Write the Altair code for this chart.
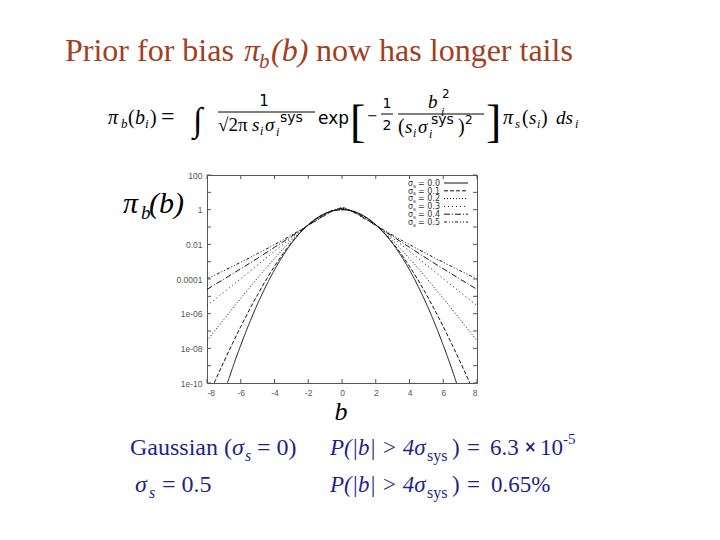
import altair as alt
import pandas as pd

# ---- data (log10 of pi_b(b)) ----
b_vals = [-8, -7.5, -7, -6.5, -6, -5.5, -5, -4.5, -4, -3.5, -3, -2.5, -2, -1.5, -1, -0.5, 0,
          0.5, 1, 1.5, 2, 2.5, 3, 3.5, 4, 4.5, 5, 5.5, 6, 6.5, 7, 7.5, 8]
sigma_labels = ["0.0", "0.1", "0.2", "0.3", "0.4", "0.5"]
log_s00 = [-13.90, -12.21, -10.64, -9.17, -7.82, -6.57, -5.43, -4.40, -3.47, -2.66, -1.95, -1.36, -0.87, -0.49, -0.22, -0.05, 0.00,
           -0.05, -0.22, -0.49, -0.87, -1.36, -1.95, -2.66, -3.47, -4.40, -5.43, -6.57, -7.82, -9.17, -10.64, -12.21, -13.90]
log_s01 = [-10.94, -9.84, -8.77, -7.74, -6.75, -5.80, -4.90, -4.05, -3.27, -2.55, -1.91, -1.34, -0.87, -0.49, -0.22, -0.05, 0.00,
           -0.05, -0.22, -0.49, -0.87, -1.34, -1.91, -2.55, -3.27, -4.05, -4.90, -5.80, -6.75, -7.74, -8.77, -9.84, -10.94]
log_s02 = [-7.56, -6.94, -6.33, -5.72, -5.12, -4.53, -3.94, -3.37, -2.82, -2.28, -1.77, -1.30, -0.88, -0.52, -0.23, -0.05, 0.01,
           -0.05, -0.23, -0.52, -0.88, -1.30, -1.77, -2.28, -2.82, -3.37, -3.94, -4.53, -5.12, -5.72, -6.33, -6.94, -7.56]
log_s03 = [-5.53, -5.15, -4.76, -4.37, -3.98, -3.58, -3.19, -2.79, -2.40, -2.01, -1.63, -1.25, -0.89, -0.55, -0.26, -0.04, 0.04,
           -0.04, -0.26, -0.55, -0.89, -1.25, -1.63, -2.01, -2.40, -2.79, -3.19, -3.58, -3.98, -4.37, -4.76, -5.15, -5.53]
log_s04 = [-4.60, -4.30, -4.01, -3.71, -3.41, -3.11, -2.80, -2.49, -2.17, -1.86, -1.54, -1.22, -0.90, -0.59, -0.29, -0.05, 0.08,
           -0.05, -0.29, -0.59, -0.90, -1.22, -1.54, -1.86, -2.17, -2.49, -2.80, -3.11, -3.41, -3.71, -4.01, -4.30, -4.60]
log_s05 = [-3.99, -3.76, -3.52, -3.28, -3.03, -2.79, -2.53, -2.28, -2.01, -1.75, -1.47, -1.19, -0.91, -0.62, -0.33, -0.05, 0.12,
           -0.05, -0.33, -0.62, -0.91, -1.19, -1.47, -1.75, -2.01, -2.28, -2.53, -2.79, -3.03, -3.28, -3.52, -3.76, -3.99]
x_ticks = [-8, -6, -4, -2, 0, 2, 4, 6, 8]
y_label_ticks = [1e2, 1, 1e-2, 1e-4, 1e-6, 1e-8, 1e-10]
y_tick_labels = ["1e-10", "1e-08", "1e-06", "0.0001", "0.01", "1", "100"]

series = [log_s00, log_s01, log_s02, log_s03, log_s04, log_s05]
rows = []
for lab, vals in zip(sigma_labels, series):
    for b, v in zip(b_vals, vals):
        rows.append({"b": b, "pi": 10 ** v, "sigma": lab})
df = pd.DataFrame(rows)

# ---- layout ----
W, H = 270, 208
OX, OY = 207, 175  # plot origin on the page
dashes = [[1, 0], [4, 2], [1, 2], [1, 3], [6, 2, 1, 2], [3, 2, 1, 2, 1, 2]]

xscale = alt.Scale(domain=[-8, 8], nice=False, zero=False)
yscale = alt.Scale(type="log", domain=[1e-10, 100], nice=False)
AXCOL = "#555555"
one = pd.DataFrame({"a": [0]})

labexpr = "['" + "','".join(y_tick_labels) + "'][round((log(datum.value)/LN10+10)/2)]"
xaxis = alt.Axis(values=x_ticks, title=None, ticks=False, domain=False, grid=False,
                 labelExpr="replace(format(datum.value, 'd'), '\u2212', '-')",
                 labelFontSize=8.5, labelColor=AXCOL, labelFont="Liberation Sans", labelPadding=5)
yaxis = alt.Axis(values=y_label_ticks, labelExpr=labexpr, title=None, ticks=False,
                 domain=False, grid=False, labelFontSize=8.5, labelColor=AXCOL,
                 labelFont="Liberation Sans", labelPadding=5)


def T(s, x, y, size, color="black", font="Liberation Serif", style="normal", align="left", weight="normal"):
    return alt.Chart(one).mark_text(text=s, fontSize=size, font=font, fontStyle=style, color=color,
                                    align=align, baseline="alphabetic", fontWeight=weight).encode(
        x=alt.value(x - OX), y=alt.value(y - OY))


def R(x1, x2, y, color="black", width=1.0, dash=None):
    kw = dict(color=color, strokeWidth=width)
    if dash is not None:
        kw["strokeDash"] = dash
    return alt.Chart(one).mark_rule(**kw).encode(
        x=alt.value(x1 - OX), x2=alt.value(x2 - OX), y=alt.value(y - OY))


lines = alt.Chart(df).mark_line(clip=True, strokeWidth=1, color="#111111", interpolate="monotone").encode(
    x=alt.X("b:Q", scale=xscale, axis=xaxis),
    y=alt.Y("pi:Q", scale=yscale, axis=yaxis),
    strokeDash=alt.StrokeDash("sigma:N", scale=alt.Scale(domain=sigma_labels, range=dashes), legend=None),
    detail="sigma:N",
)

# inward ticks (gnuplot style)
yt = pd.DataFrame({"v": [10.0 ** k for k in range(-10, 3)]})
xt = pd.DataFrame({"v": x_ticks})
ticks = [
    alt.Chart(yt).mark_rule(color=AXCOL).encode(y=alt.Y("v:Q", scale=yscale, axis=yaxis), x=alt.value(0), x2=alt.value(4)),
    alt.Chart(yt).mark_rule(color=AXCOL).encode(y=alt.Y("v:Q", scale=yscale, axis=yaxis), x=alt.value(W), x2=alt.value(W - 4)),
    alt.Chart(xt).mark_rule(color=AXCOL).encode(x=alt.X("v:Q", scale=xscale, axis=xaxis), y=alt.value(H), y2=alt.value(H - 4)),
    alt.Chart(xt).mark_rule(color=AXCOL).encode(x=alt.X("v:Q", scale=xscale, axis=xaxis), y=alt.value(0), y2=alt.value(4)),
]

# legend inside plot
legend = []
for i, lab in enumerate(sigma_labels):
    yc = 183 + 7.8 * i
    legend.append(T("σ", 408, yc + 2.8, 8, color="#333", font="DejaVu Sans"))
    legend.append(T("s", 413, yc + 4.5, 5.5, color="#333", font="DejaVu Sans"))
    legend.append(T("= " + lab, 418, yc + 2.8, 8, color="#333", font="DejaVu Sans"))
    legend.append(R(444, 468, yc, color="#111", width=1, dash=dashes[i]))

TC = "#A0401F"
NC = "#1F1F8C"
SANS = "DejaVu Sans"
texts = [
    # title
    T("Prior for bias", 65, 61, 32, TC),
    T("π", 244, 61, 32, TC, style="italic"),
    T("b", 259, 68, 21, TC, style="italic"),
    T("(b)", 271, 61, 32, TC, style="italic"),
    T("now has longer tails", 316, 61, 32, TC),
    # formula
    T("π", 108, 124, 20, style="italic"),
    T("b", 121, 128, 13, style="italic"),
    T("(", 128, 124, 20),
    T("b", 135, 124, 20, style="italic"),
    T("i", 145, 128, 13, style="italic"),
    T(")", 150, 124, 20),
    T("=", 161, 124, 24),
    T("∫", 193, 131, 34),
    T("1", 264, 106, 15, font=SANS, align="center"),
    R(218, 315, 112),
    T("√2π", 218, 131, 19),
    T("s", 252, 131, 19, style="italic"),
    T("i", 260, 135, 12, style="italic"),
    T("σ", 265, 131, 19, style="italic"),
    T("i", 276, 136, 12, style="italic"),
    T("sys", 280, 122, 14, font=SANS),
    T("exp", 318, 124, 17, font=SANS),
    T("[", 350, 137, 46, weight="lighter"),
    T("−", 367, 120, 13, font=SANS),
    T("1", 387, 108, 14, font=SANS, align="center"),
    R(381, 393, 114),
    T("2", 387, 130, 14, font=SANS, align="center"),
    T("b", 428, 108, 19, style="italic"),
    T("2", 442, 98, 12, font=SANS),
    T("i", 441, 116, 12, style="italic"),
    R(398, 484, 114),
    T("(", 398, 133, 20),
    T("s", 405, 133, 19, style="italic"),
    T("i", 413, 137, 12, style="italic"),
    T("σ", 418, 133, 19, style="italic"),
    T("i", 429, 138, 12, style="italic"),
    T("sys", 431, 124, 14, font=SANS),
    T(")", 458, 133, 20),
    T("2", 465, 124, 12, font=SANS),
    T("]", 486, 137, 46, weight="lighter"),
    T("π", 503, 124, 20, style="italic"),
    T("s", 515, 128, 13, style="italic"),
    T("(", 522, 124, 20),
    T("s", 529, 124, 19, style="italic"),
    T("i", 537, 128, 12, style="italic"),
    T(")", 541, 124, 20),
    T("ds", 556, 124, 19, style="italic"),
    T("i", 575, 128, 12, style="italic"),
    # axis titles
    T("π", 123, 213, 30, style="italic"),
    T("b", 141, 219, 19, style="italic"),
    T("(b)", 149, 213, 30, style="italic"),
    T("b", 341, 420, 26, style="italic", align="center"),
    # bottom notes, row 1
    T("Gaussian (", 130, 455, 24, NC),
    T("σ", 232, 455, 24, NC, style="italic"),
    T("s", 245, 461, 16, NC, style="italic"),
    T("= 0)", 257, 455, 24, NC),
    T("P(|b| > 4σ", 330, 455, 23, NC, style="italic"),
    T("sys", 427, 461, 16, NC),
    T(")", 452, 455, 23, NC),
    T("=", 467, 455, 23, NC),
    T("6.3", 490, 455, 23, NC),
    T("×", 524, 452, 15, NC, font=SANS, weight="bold"),
    T("10", 540, 455, 23, NC),
    T("-5", 563, 444, 15, NC),
    # bottom notes, row 2
    T("σ", 135, 492, 24, NC, style="italic"),
    T("s", 149, 498, 16, NC, style="italic"),
    T("= 0.5", 162, 492, 24, NC),
    T("P(|b| > 4σ", 330, 492, 23, NC, style="italic"),
    T("sys", 427, 498, 16, NC),
    T(")", 452, 492, 23, NC),
    T("=", 467, 492, 23, NC),
    T("0.65%", 491, 492, 23, NC),
]

chart = alt.layer(lines, *ticks, *legend, *texts).properties(
    width=W, height=H,
    autosize=alt.AutoSizeParams(type="none"),
    padding={"left": OX - 8, "top": OY - 8, "right": 704 - (OX - 8) - W, "bottom": 524 - (OY - 8) - H},
    background="white",
).configure_view(stroke=AXCOL, strokeWidth=1)

chart.save("out.html", embed_options={"renderer": "svg", "actions": False})
